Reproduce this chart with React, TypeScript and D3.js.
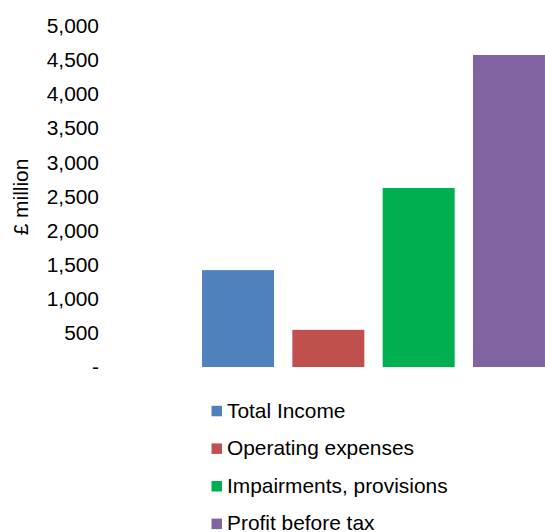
import React from "react";
import * as d3 from "d3";

const categories = ["Total Income", "Operating expenses", "Impairments, provisions", "Profit before tax"];
const values = [1420, 545, 2625, 4575];
const colors = ["#4F81BD", "#C0504D", "#00AF50", "#8064A2"];
const yTicks = [0, 500, 1000, 1500, 2000, 2500, 3000, 3500, 4000, 4500, 5000];
const yLabel = "£ million";

export default function App() {
  const W = 545, H = 532;
  const y = d3.scaleLinear().domain([0, 5000]).range([367, 26]);
  const x = d3.scaleBand<string>().domain(categories).range([193, 554]).paddingInner(0.203).paddingOuter(0.1);
  const fmt = d3.format(",");
  const font = "Arial, 'Liberation Sans', sans-serif";
  const fs = 20.5;
  const sx = 1.02;
  return (
    <svg width={W} height={H} style={{ position: "absolute", left: 0, top: 0 }} fontFamily={font}>
      <rect width={W} height={H} fill="#fff" />
      {yTicks.map((t) => (
        <text key={t} transform={`translate(99,${y(t)}) scale(${sx},1)`} dy="0.35em" textAnchor="end" fontSize={fs} fill="#000">
          {t === 0 ? "-" : fmt(t)}
        </text>
      ))}
      <text transform={`translate(28,197) rotate(-90) scale(${sx},1)`} textAnchor="middle" fontSize={fs} fill="#000">
        {yLabel}
      </text>
      {categories.map((c, i) => (
        <rect key={c} x={x(c)} y={y(values[i])} width={x.bandwidth()} height={y(0) - y(values[i])} fill={colors[i]} />
      ))}
      {categories.map((c, i) => {
        const cy = 411 + i * 37.6;
        return (
          <g key={"l" + c}>
            <rect x={211.5} y={cy - 5.2} width={10.5} height={10.5} fill={colors[i]} />
            <text transform={`translate(227,${cy - 0.5}) scale(${sx},1)`} dy="0.35em" fontSize={fs} fill="#000">{c}</text>
          </g>
        );
      })}
    </svg>
  );
}
